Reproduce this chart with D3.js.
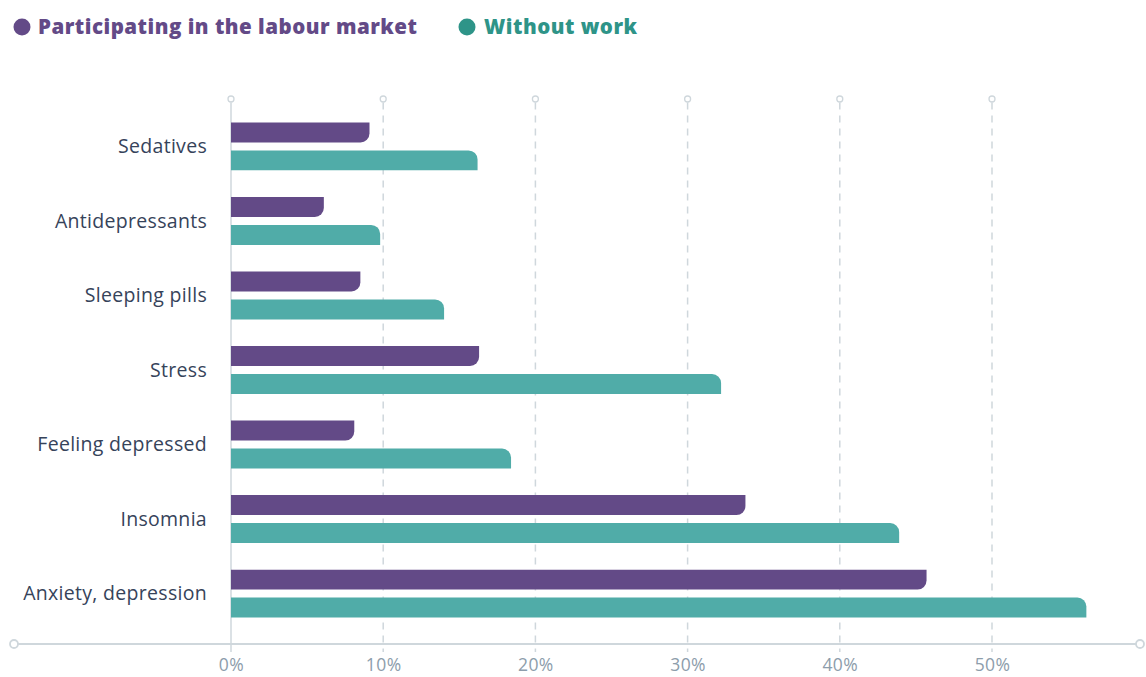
<!DOCTYPE html>
<html>
<head>
<meta charset="utf-8">
<script src="https://cdn.jsdelivr.net/npm/d3@7"></script>
<style>
  html, body { margin: 0; padding: 0; background: #fff; }
  svg { display: block; font-family: "Open Sans", "Noto Sans", sans-serif; }
</style>
</head>
<body>
<svg id="chart" width="1146" height="677"></svg>
<script>
// Share of respondents reporting each symptom / medication use (%)
const categories = ["Sedatives", "Antidepressants", "Sleeping pills", "Stress",
                    "Feeling depressed", "Insomnia", "Anxiety, depression"];
const participating = [9.1, 6.1, 8.5, 16.3, 8.1, 33.8, 45.7];
const withoutWork   = [16.2, 9.8, 14.0, 32.2, 18.4, 43.9, 56.2];
const seriesNames = ["Participating in the labour market", "Without work"];
const tickValues = [0, 10, 20, 30, 40, 50];
const tickLabels = ["0%", "10%", "20%", "30%", "40%", "50%"];

const colors = { bar: ["#634a87", "#50aca8"], legend: ["#634a87", "#2e9488"] };

const svg = d3.select("#chart");

const x = d3.scaleLinear().domain([0, 50]).range([231, 992]);
const y = d3.scaleBand().domain(categories).range([109, 631]).paddingInner(0.357).paddingOuter(0.18);
const ySub = d3.scaleBand().domain([0, 1]).range([0, y.bandwidth()]).paddingInner(0.2857);

const axisY = 644, topY = 99, gridColor = "#cfd7dc";

// Vertical grid lines with small open circles on top
const grid = svg.append("g");
tickValues.forEach((v, i) => {
  grid.append("line")
    .attr("x1", x(v)).attr("x2", x(v))
    .attr("y1", topY + 3.5).attr("y2", axisY + 8)
    .attr("stroke", gridColor).attr("stroke-width", 1.5)
    .attr("stroke-dasharray", i === 0 ? null : "7,6");
  grid.append("circle")
    .attr("cx", x(v)).attr("cy", topY).attr("r", 3)
    .attr("fill", "#fff").attr("stroke", gridColor).attr("stroke-width", 1.3);
});

// Bars: right end rounded on the outer corner of each pair
const r = 9;
function barPath(x0, x1, y0, h, roundBottom) {
  const w = Math.max(x1 - x0, 0), rr = Math.min(r, w, h);
  if (roundBottom) {
    return `M${x0},${y0}H${x1}V${y0 + h - rr}A${rr},${rr} 0 0 1 ${x1 - rr},${y0 + h}H${x0}Z`;
  }
  return `M${x0},${y0}H${x1 - rr}A${rr},${rr} 0 0 1 ${x1},${y0 + rr}V${y0 + h}H${x0}Z`;
}

const seriesData = [participating, withoutWork];
const bars = svg.append("g");
seriesData.forEach((vals, s) => {
  bars.selectAll(null).data(categories).enter().append("path")
    .attr("d", (c, i) => barPath(x(0), x(vals[i]), y(c) + ySub(s), ySub.bandwidth(), s === 0))
    .attr("fill", colors.bar[s]);
});

// Category labels
svg.append("g").selectAll("text").data(categories).enter().append("text")
  .attr("x", 207)
  .attr("y", c => y(c) + y.bandwidth() / 2)
  .attr("dy", "0.35em")
  .attr("text-anchor", "end")
  .attr("fill", "#36435a")
  .attr("font-size", 19.5)
  .attr("letter-spacing", 0.3)
  .text(c => c);

// Horizontal axis baseline with end circles
const axisG = svg.append("g");
axisG.append("line")
  .attr("x1", 18).attr("x2", 1136).attr("y1", axisY).attr("y2", axisY)
  .attr("stroke", gridColor).attr("stroke-width", 2);
[14, 1140].forEach(cx => axisG.append("circle")
  .attr("cx", cx).attr("cy", axisY).attr("r", 4)
  .attr("fill", "#fff").attr("stroke", gridColor).attr("stroke-width", 1.8));

// Tick labels
const xAxis = d3.axisBottom(x).tickValues(tickValues)
  .tickFormat((d, i) => tickLabels[i]).tickSize(0).tickPadding(0);
const xg = svg.append("g").attr("transform", `translate(0,${axisY + 27})`).call(xAxis);
xg.select(".domain").remove();
xg.selectAll("text")
  .attr("fill", "#8d9dab").attr("font-size", 17.5)
  .attr("font-family", "\"Open Sans\", sans-serif")
  .attr("letter-spacing", 0.4)
  .attr("dy", "0");

// Legend
const legendPos = [{ cx: 22, tx: 38 }, { cx: 467, tx: 484 }];
const legend = svg.append("g");
seriesNames.forEach((name, s) => {
  legend.append("circle").attr("cx", legendPos[s].cx).attr("cy", 27).attr("r", 8.5)
    .attr("fill", colors.legend[s]);
  legend.append("text").attr("x", legendPos[s].tx).attr("y", 27).attr("dy", "0.35em")
    .attr("fill", colors.legend[s]).attr("font-weight", 800).attr("font-size", 20.5)
    .attr("letter-spacing", 0.5)
    .text(name);
});
</script>
</body>
</html>
